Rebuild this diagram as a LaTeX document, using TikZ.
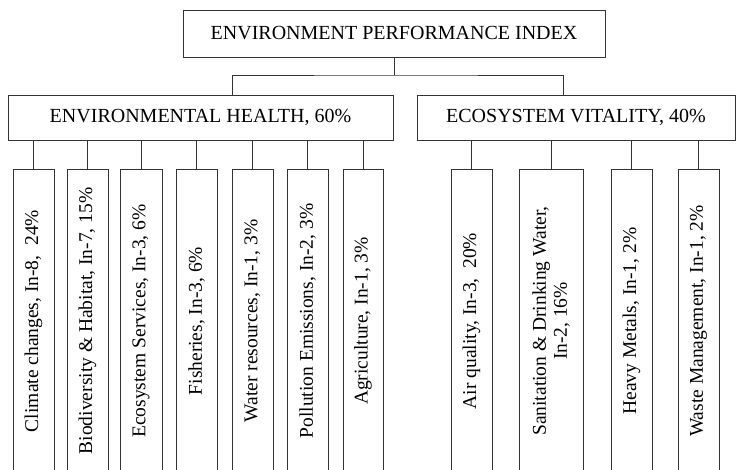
\documentclass[tikz,border=0pt]{standalone}
\usepackage{fontspec}
\setmainfont{Liberation Serif}
\begin{document}
\begin{tikzpicture}[x=1pt,y=-1pt,
  box/.style={draw=black!80, line width=0.8pt, inner sep=0pt, font=\fontsize{20}{22}\selectfont},
  leaf/.style={draw=black!80, line width=0.8pt, inner sep=0pt, rotate=90, minimum width=304, align=center, font=\fontsize{19.5}{21}\selectfont},
  link/.style={draw=black!80, line width=0.8pt}]
\useasboundingbox (0,0) rectangle (743,470);
\node[box, minimum width=422, minimum height=47] (epi) at (394,33.5) {ENVIRONMENT PERFORMANCE INDEX};
\node[box, minimum width=385, minimum height=45] (eh) at (200.5,117.5) {ENVIRONMENTAL HEALTH, 60\%};
\node[box, minimum width=318, minimum height=45] (ev) at (576,117.5) {ECOSYSTEM VITALITY, 40\%};
% leaves (top at ~169, extend past bottom)
\node[leaf, minimum height=41] (cc) at (33.5,321) {Climate changes, In-8,\ \ 24\%};
\node[leaf, minimum height=41] (bh) at (87.5,321) {Biodiversity \& Habitat, In-7, 15\%};
\node[leaf, minimum height=42] (es) at (141,321) {Ecosystem Services, In-3, 6\%};
\node[leaf, minimum height=41] (fi) at (196.5,321) {Fisheries, In-3, 6\%};
\node[leaf, minimum height=41] (wr) at (252.5,321) {Water resources, In-1, 3\%};
\node[leaf, minimum height=41] (pe) at (307.5,321) {Pollution Emissions, In-2, 3\%};
\node[leaf, minimum height=40] (ag) at (363,321) {Agriculture, In-1, 3\%};
\node[leaf, minimum height=41] (aq) at (471.5,321) {Air quality, In-3,\ \ 20\%};
\node[leaf, minimum height=64] (sd) at (551,321) {Sanitation \& Drinking Water,\\In-2, 16\%};
\node[leaf, minimum height=41] (hm) at (631.5,321) {Heavy Metals, In-1, 2\%};
\node[leaf, minimum height=41] (wm) at (698.5,321) {Waste Management, In-1, 2\%};
% connectors
\coordinate (bus) at (0,75);
\draw[link] (epi.south) -- (epi.south |- bus);
\draw[link] (eh.north -| 232,0) |- (bus -| epi.south) -| (ev.north -| 563,0);
\foreach \n in {cc,bh,es,fi,wr,pe,ag} \draw[link] (\n.east) -- (\n.east |- eh.south);
\foreach \n in {aq,sd,hm,wm} \draw[link] (\n.east) -- (\n.east |- ev.south);
\end{tikzpicture}
\end{document}
